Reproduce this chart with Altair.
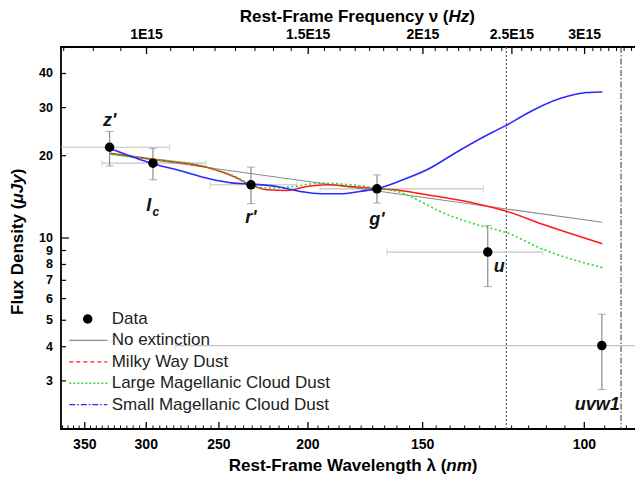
import altair as alt
import pandas as pd

FONT = "Liberation Sans"

# ---------------- data ----------------
band_labels = ["z'", "I", "r'", "g'", "u", "uvw1"]
band_wl = [328.9, 295.0, 230.7, 168.2, 127.4, 95.7]          # nm
band_flux = [21.48, 18.78, 15.66, 15.14, 8.88, 4.04]          # uJy
band_flux_lo = [18.35, 16.33, 13.35, 13.43, 6.64, 2.79]
band_flux_hi = [24.56, 21.3, 18.16, 17.02, 11.1, 5.26]
band_wl_short = [282.9, 258.3, 205.7, 128.8, 111.0, 80.0]
band_wl_long = [390.0, 335.2, 255.5, 194.0, 164.0, 279.0]

label_wl = [328.9, 298.2, 230.7, 168.2, 123.8, 96.8]
label_flux = [26.84, 13.05, 11.84, 11.68, 7.81, 2.44]
sub_label = ["c"]
sub_wl = [292.9]
sub_flux = [12.49]

noext_wl = [328.9, 179.9, 95.6]
noext_flux = [20.30, 15.33, 11.42]

mw_wl = [328.3, 294.5, 259.8, 241.0, 230.2, 221.7, 210.8, 200.5, 190.7, 179.9,
         168.3, 158.7, 148.4, 131.0, 121.5, 110.8, 95.6]
mw_flux = [20.43, 19.42, 18.26, 16.79, 15.57, 15.02, 14.93, 15.44, 15.66, 15.44,
           15.14, 14.93, 14.40, 13.35, 12.52, 11.20, 9.53]

lmc_wl = [328.3, 294.5, 259.8, 241.0, 230.2, 221.7, 207.4, 193.9, 179.9, 168.3,
          158.7, 154.8, 142.4, 131.0, 121.5, 110.8, 95.6]
lmc_flux = [20.26, 19.42, 18.36, 16.89, 15.66, 15.23, 15.44, 15.88, 15.66, 15.23,
            14.70, 14.20, 12.35, 11.20, 10.45, 9.08, 7.79]

smc_wl = [328.9, 294.5, 277.8, 255.5, 241.0, 230.7, 216.2, 203.9, 193.9, 182.9,
          175.5, 168.3, 158.7, 148.4, 136.5, 125.6, 121.5, 115.5, 106.3, 99.4, 95.6]
smc_flux = [21.30, 18.67, 17.76, 16.43, 15.88, 15.75, 15.44, 14.80, 14.52, 14.52,
            14.80, 15.14, 16.19, 17.76, 21.00, 24.48, 25.89, 28.56, 32.39, 34.06, 34.23]

lyman_alpha = [121.6]
lyman_limit = [91.2]

x_major = [350, 300, 250, 200, 150, 100]
x_minor = [v for v in range(90, 371, 5) if v % 50 != 0]
y_minor = [3, 4, 5, 6, 7, 8, 9, 20, 30, 40]
y_major = [10]
y_labels = [3, 4, 5, 6, 7, 8, 9, 10, 20, 30, 40]
freq_major = [1.0, 1.5, 2.0, 2.5, 3.0]            # 1E15 Hz
freq_major_labels = ["1E15", "1.5E15", "2E15", "2.5E15", "3E15"]
freq_minor = [0.8125 + 0.0625 * k for k in range(42) if (0.8125 + 0.0625 * k) % 0.5 != 0]
C_NM = 299.79  # c in nm * 1E15 Hz

legend_items = ["Data", "No extinction", "Milky Way Dust", "Large Magellanic Cloud Dust",
                "Small Magellanic Cloud Dust"]

# ---------------- tables ----------------
bands = pd.DataFrame(dict(wl=band_wl, flux=band_flux, lo=band_flux_lo, hi=band_flux_hi,
                          ws=band_wl_short, wlg=band_wl_long))
labels = pd.DataFrame(dict(wl=label_wl, flux=label_flux, t=band_labels))
subs = pd.DataFrame(dict(wl=sub_wl, flux=sub_flux, t=sub_label))
one = pd.DataFrame({"a": [0]})

W, H = 583, 382
xs = alt.Scale(type="log", domain=[86.1, 371.5], reverse=True, nice=False)
ys = alt.Scale(type="log", domain=[2, 50], nice=False)


def X(f="wl"):
    return alt.X(f + ":Q", scale=xs, axis=None)


def Y(f="flux"):
    return alt.Y(f + ":Q", scale=ys, axis=None)


layers = []

# vertical reference lines
layers.append(alt.Chart(pd.DataFrame(dict(wl=lyman_alpha))).mark_rule(
    color="#666666", strokeDash=[2, 2], strokeWidth=1.3).encode(x=X()))
layers.append(alt.Chart(pd.DataFrame(dict(wl=lyman_limit))).mark_rule(
    color="#444444", strokeDash=[6, 2, 1.5, 2], strokeWidth=1.1).encode(x=X()))

# error bars
layers.append(alt.Chart(bands).mark_rule(color="#c4c4c4", strokeWidth=1.2, clip=True).encode(
    x=X("ws"), x2="wlg:Q", y=Y()))
for f in ["ws", "wlg"]:
    layers.append(alt.Chart(bands).mark_tick(orient="vertical", size=7, thickness=1,
                                             color="#c4c4c4", clip=True).encode(x=X(f), y=Y()))
layers.append(alt.Chart(bands).mark_rule(color="#8c8c8c", strokeWidth=1.2).encode(
    x=X(), y=Y("lo"), y2="hi:Q"))
for f in ["lo", "hi"]:
    layers.append(alt.Chart(bands).mark_tick(orient="horizontal", size=8, thickness=1,
                                             color="#8c8c8c").encode(x=X(), y=Y(f)))

# model curves
def curve(wl, fl, **kw):
    return alt.Chart(pd.DataFrame(dict(wl=wl, flux=fl))).mark_line(
        interpolate="monotone", **kw).encode(x=X(), y=Y(), order="wl:Q")

layers.append(curve(noext_wl, noext_flux, color="#8a8a8a", strokeWidth=1.1))
layers.append(curve(mw_wl, mw_flux, color="#ff1a1a", strokeWidth=1.5))
layers.append(curve(lmc_wl, lmc_flux, color="#22e022", strokeWidth=1.6, strokeDash=[2, 2.5]))
layers.append(curve(smc_wl, smc_flux, color="#2a2aff", strokeWidth=1.6))

# data points
layers.append(alt.Chart(bands).mark_circle(size=90, color="black", opacity=1).encode(x=X(), y=Y()))

# band labels
layers.append(alt.Chart(labels).mark_text(font=FONT, fontSize=18, fontWeight="bold",
                                          fontStyle="italic", color="#111111",
                                          align="center", baseline="middle").encode(
    x=X(), y=Y(), text="t:N"))
layers.append(alt.Chart(subs).mark_text(font=FONT, fontSize=12, fontWeight="bold",
                                        fontStyle="italic", color="#111111",
                                        align="center", baseline="middle").encode(
    x=X(), y=Y(), text="t:N"))

# bottom axis: inward ticks + labels
xt_major = pd.DataFrame(dict(wl=x_major))
xt_minor = pd.DataFrame(dict(wl=x_minor))
layers.append(alt.Chart(xt_major).mark_rule(color="black", strokeWidth=1.3).encode(
    x=X(), y=alt.value(H), y2=alt.value(H - 7)))
layers.append(alt.Chart(xt_minor).mark_rule(color="black", strokeWidth=1).encode(
    x=X(), y=alt.value(H), y2=alt.value(H - 3.5)))
layers.append(alt.Chart(xt_major).mark_text(font=FONT, fontSize=14, fontWeight="bold",
                                            color="black", baseline="middle").encode(
    x=X(), y=alt.value(H + 16), text=alt.Text("wl:Q", format="d")))

# top axis (frequency)
fmaj = pd.DataFrame(dict(nu=freq_major, t=freq_major_labels))
fmin = pd.DataFrame(dict(nu=freq_minor))
layers.append(alt.Chart(fmaj).transform_calculate(wl=f"{C_NM}/datum.nu").mark_rule(
    color="black", strokeWidth=1.3).encode(x=X(), y=alt.value(0), y2=alt.value(7)))
layers.append(alt.Chart(fmin).transform_calculate(wl=f"{C_NM}/datum.nu").mark_rule(
    color="black", strokeWidth=1).encode(x=X(), y=alt.value(0), y2=alt.value(4)))
layers.append(alt.Chart(fmaj).transform_calculate(wl=f"{C_NM}/datum.nu").mark_text(
    font=FONT, fontSize=14, fontWeight="bold", color="black", baseline="middle").encode(
    x=X(), y=alt.value(-12), text="t:N"))

# left / right axes
yt_min = pd.DataFrame(dict(flux=y_minor))
yt_maj = pd.DataFrame(dict(flux=y_major))
for d, ln in [(yt_min, 5), (yt_maj, 8)]:
    layers.append(alt.Chart(d).mark_rule(color="black", strokeWidth=1.2).encode(
        y=Y(), x=alt.value(0), x2=alt.value(ln)))
    layers.append(alt.Chart(d).mark_rule(color="black", strokeWidth=1.2).encode(
        y=Y(), x=alt.value(W), x2=alt.value(W - ln)))
layers.append(alt.Chart(pd.DataFrame(dict(flux=y_labels))).mark_text(
    font=FONT, fontSize=12.5, fontWeight="bold", color="black", align="right",
    baseline="middle").encode(y=Y(), x=alt.value(-8), text=alt.Text("flux:Q", format="d")))

# axis titles (with italic units)
def txt(s, x, y, **kw):
    base = dict(font=FONT, fontSize=17, fontWeight="bold", color="black", baseline="middle")
    base.update(kw)
    return alt.Chart(one).mark_text(text=s, **base).encode(x=alt.value(x), y=alt.value(y))

TY = 418.5
layers.append(txt("Rest-Frame Wavelength \u03bb (", 385.3, TY, align="right"))
layers.append(txt("nm", 385.3, TY, align="left", fontStyle="italic"))
layers.append(txt(")", 410.8, TY, align="left"))
layers.append(txt("Rest-Frame Frequency \u03bd (", 387.5, -30, align="right"))
layers.append(txt("Hz", 387.5, -30, align="left", fontStyle="italic"))
layers.append(txt(")", 408.3, -30, align="left"))
layers.append(txt("Flux Density (", -42.7, 156.5, align="right", angle=270))
layers.append(txt("\u03bcJy", -42.7, 156.5, align="left", angle=270, fontStyle="italic"))
layers.append(txt(")", -42.7, 127.2, align="left", angle=270))

# legend
ly = [272.0, 293.4, 314.8, 336.2, 357.6]
layers.append(alt.Chart(one).mark_circle(size=90, color="black", opacity=1).encode(
    x=alt.value(26.7), y=alt.value(ly[0])))
styles = [dict(color="#8a8a8a", strokeWidth=1.2),
          dict(color="#ff1a1a", strokeWidth=1.3, strokeDash=[4, 3]),
          dict(color="#22e022", strokeWidth=1.6, strokeDash=[2, 2]),
          dict(color="#2a2aff", strokeWidth=1.1, strokeDash=[6, 2, 1.5, 2])]
for yy, st in zip(ly[1:], styles):
    layers.append(alt.Chart(one).mark_rule(**st).encode(
        x=alt.value(8.3), x2=alt.value(46.3), y=alt.value(yy)))
for yy, s in zip(ly, legend_items):
    layers.append(txt(s, 50.7, yy, align="left", fontWeight="normal", color="#222222"))

chart = alt.layer(*layers).properties(
    width=W, height=H, background="white",
    padding={"left": 53, "top": 39, "right": -9, "bottom": 48},
    autosize=alt.AutoSizeParams(type="none"),
).configure_view(stroke="black", strokeWidth=1.8)

chart.save("out.html", embed_options={"renderer": "svg", "actions": False})
